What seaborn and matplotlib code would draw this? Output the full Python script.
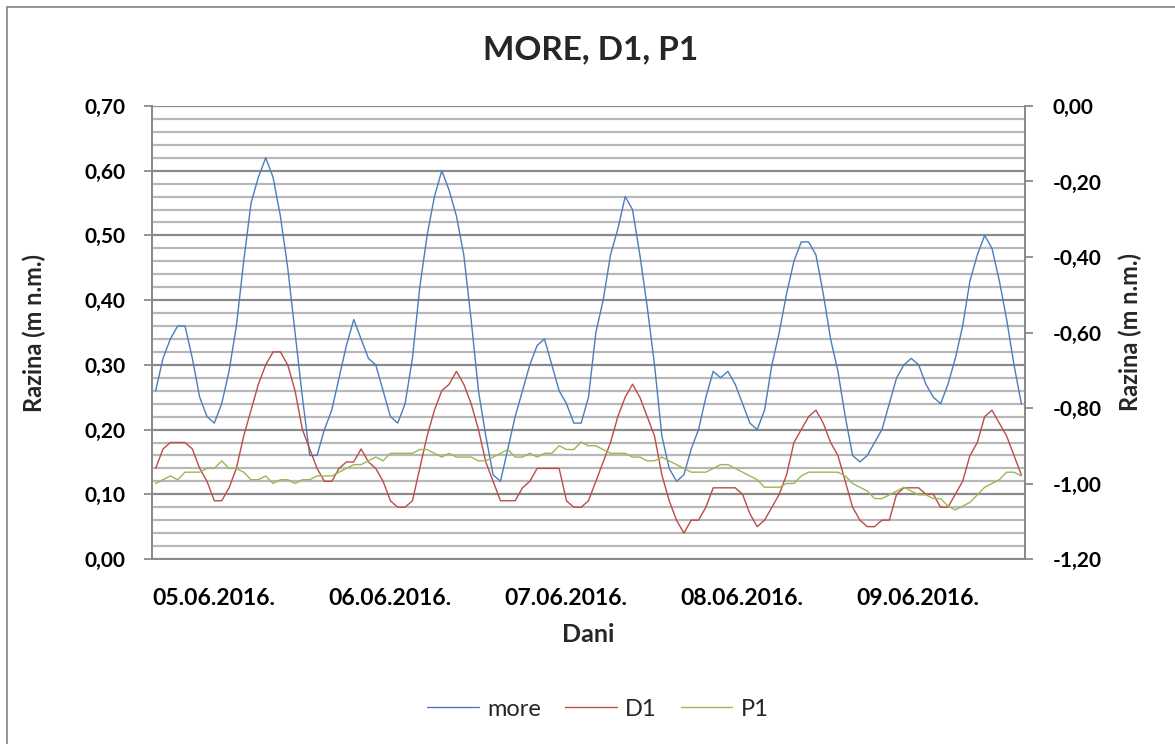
import numpy as np
import pandas as pd
import matplotlib
matplotlib.use("Agg")
import matplotlib.pyplot as plt
import matplotlib.transforms as mtransforms
from matplotlib.ticker import FuncFormatter, MultipleLocator
from matplotlib.lines import Line2D
from matplotlib.patches import Rectangle
import seaborn as sns

# Hourly water levels, 05.06.2016 00h -> 09.06.2016 22h
more = [
    0.26, 0.31, 0.34, 0.36, 0.36, 0.31, 0.25, 0.22, 0.21, 0.24,
    0.29, 0.36, 0.46, 0.55, 0.59, 0.62, 0.59, 0.53, 0.45, 0.35,
    0.25, 0.16, 0.16, 0.20, 0.23, 0.28, 0.33, 0.37, 0.34, 0.31,
    0.30, 0.26, 0.22, 0.21, 0.24, 0.31, 0.42, 0.50, 0.56, 0.60,
    0.57, 0.53, 0.47, 0.37, 0.26, 0.19, 0.13, 0.12, 0.17, 0.22,
    0.26, 0.30, 0.33, 0.34, 0.30, 0.26, 0.24, 0.21, 0.21, 0.25,
    0.35, 0.40, 0.47, 0.51, 0.56, 0.54, 0.47, 0.39, 0.30, 0.19,
    0.14, 0.12, 0.13, 0.17, 0.20, 0.25, 0.29, 0.28, 0.29, 0.27,
    0.24, 0.21, 0.20, 0.23, 0.30, 0.35, 0.41, 0.46, 0.49, 0.49,
    0.47, 0.41, 0.34, 0.29, 0.22, 0.16, 0.15, 0.16, 0.18, 0.20,
    0.24, 0.28, 0.30, 0.31, 0.30, 0.27, 0.25, 0.24, 0.27, 0.31,
    0.36, 0.43, 0.47, 0.50, 0.48, 0.43, 0.37, 0.30, 0.24,
]
d1 = [
    0.14, 0.17, 0.18, 0.18, 0.18, 0.17, 0.14, 0.12, 0.09, 0.09,
    0.11, 0.14, 0.19, 0.23, 0.27, 0.30, 0.32, 0.32, 0.30, 0.26,
    0.20, 0.17, 0.14, 0.12, 0.12, 0.14, 0.15, 0.15, 0.17, 0.15,
    0.14, 0.12, 0.09, 0.08, 0.08, 0.09, 0.14, 0.19, 0.23, 0.26,
    0.27, 0.29, 0.27, 0.24, 0.20, 0.15, 0.12, 0.09, 0.09, 0.09,
    0.11, 0.12, 0.14, 0.14, 0.14, 0.14, 0.09, 0.08, 0.08, 0.09,
    0.12, 0.15, 0.18, 0.22, 0.25, 0.27, 0.25, 0.22, 0.19, 0.13,
    0.09, 0.06, 0.04, 0.06, 0.06, 0.08, 0.11, 0.11, 0.11, 0.11,
    0.10, 0.07, 0.05, 0.06, 0.08, 0.10, 0.13, 0.18, 0.20, 0.22,
    0.23, 0.21, 0.18, 0.16, 0.12, 0.08, 0.06, 0.05, 0.05, 0.06,
    0.06, 0.10, 0.11, 0.11, 0.11, 0.10, 0.10, 0.08, 0.08, 0.10,
    0.12, 0.16, 0.18, 0.22, 0.23, 0.21, 0.19, 0.16, 0.13,
]
p1 = [
    -1.00, -0.99, -0.98, -0.99, -0.97, -0.97, -0.97, -0.96, -0.96, -0.94,
    -0.96, -0.96, -0.97, -0.99, -0.99, -0.98, -1.00, -0.99, -0.99, -1.00,
    -0.99, -0.99, -0.98, -0.98, -0.98, -0.97, -0.96, -0.95, -0.95, -0.94,
    -0.93, -0.94, -0.92, -0.92, -0.92, -0.92, -0.91, -0.91, -0.92, -0.93,
    -0.92, -0.93, -0.93, -0.93, -0.94, -0.94, -0.93, -0.92, -0.91, -0.93,
    -0.93, -0.92, -0.93, -0.92, -0.92, -0.90, -0.91, -0.91, -0.89, -0.90,
    -0.90, -0.91, -0.92, -0.92, -0.92, -0.93, -0.93, -0.94, -0.94, -0.93,
    -0.94, -0.95, -0.96, -0.97, -0.97, -0.97, -0.96, -0.95, -0.95, -0.96,
    -0.97, -0.98, -0.99, -1.01, -1.01, -1.01, -1.00, -1.00, -0.98, -0.97,
    -0.97, -0.97, -0.97, -0.97, -0.98, -1.00, -1.01, -1.02, -1.04, -1.04,
    -1.03, -1.02, -1.01, -1.02, -1.03, -1.03, -1.04, -1.04, -1.06, -1.07,
    -1.06, -1.05, -1.03, -1.01, -1.00, -0.99, -0.97, -0.97, -0.98,
]
day_labels = ["05.06.2016.", "06.06.2016.", "07.06.2016.", "08.06.2016.", "09.06.2016."]
series_names = ["more", "D1", "P1"]
colors = ["#4a7ebb", "#be4b48", "#98b954"]

sns.set_style("white")
FONT = ["Lato", "DejaVu Sans"]
plt.rcParams["font.family"] = FONT

n = len(more)
hours = np.arange(n) + 0.5
df = pd.DataFrame({"sat": hours, "more": more, "D1": d1, "P1": p1})

W, H = 1175, 744
fig = plt.figure(figsize=(W / 100, H / 100), dpi=100)
fig.patch.set_facecolor("white")

# Chart-area frame
fig.add_artist(Rectangle((6.5 / W, -0.05), 1.2, 1 - 6.5 / H + 0.05,
                         transform=fig.transFigure, fill=False,
                         edgecolor="#8c8c8c", linewidth=1.3))

ax = fig.add_axes([152 / W, 1 - 559 / H, (1025 - 152) / W, (559 - 106) / H])
ax2 = ax.twinx()

sns.lineplot(data=df, x="sat", y="more", ax=ax, color=colors[0], linewidth=1.0)
sns.lineplot(data=df, x="sat", y="D1", ax=ax, color=colors[1], linewidth=1.0)
sns.lineplot(data=df, x="sat", y="P1", ax=ax2, color=colors[2], linewidth=1.0)

ax.set_xlim(0, n)
ax.set_ylim(0, 0.70)
ax2.set_ylim(-1.20, 0.0)

# Gridlines: minor every 0.02, major every 0.10
ax.yaxis.set_major_locator(MultipleLocator(0.10))
ax.yaxis.set_minor_locator(MultipleLocator(0.02))
ax.grid(which="minor", axis="y", color="#b8b8b8", linewidth=1.6)
ax.grid(which="major", axis="y", color="#8a8a8a", linewidth=1.6)
ax.grid(False, axis="x")
ax.set_axisbelow(True)
ax.tick_params(axis="y", which="minor", length=0)
ax2.yaxis.set_major_locator(MultipleLocator(0.20))

fmt = FuncFormatter(lambda v, p: f"{v:.2f}".replace(".", ",").replace("-0,00", "0,00"))
ax.yaxis.set_major_formatter(fmt)
ax2.yaxis.set_major_formatter(fmt)

ax.set_xticks([0, 24, 48, 72, 96])
ax.set_xticklabels(day_labels, ha="left")
offset = mtransforms.ScaledTranslation(6 / 100, 0, fig.dpi_scale_trans)
for lab in ax.get_xticklabels():
    lab.set_transform(lab.get_transform() + offset)

for a in (ax, ax2):
    a.spines["top"].set_visible(False)
    for side in ("left", "bottom", "right"):
        a.spines[side].set_color("#8a8a8a")
        a.spines[side].set_linewidth(1.3)
ax.tick_params(axis="both", which="major", direction="out", length=6, width=1.3,
               color="#8a8a8a", labelcolor="black")
ax.tick_params(axis="y", labelsize=15, pad=13)
ax.tick_params(axis="x", labelsize=16.5, pad=15)
ax2.tick_params(axis="y", direction="out", length=6, width=1.3, color="#8a8a8a",
                labelsize=15, labelcolor="black", pad=14)
for lab in ax.get_yticklabels() + ax2.get_yticklabels() + ax.get_xticklabels():
    lab.set_fontweight("bold")

ax.set_xlabel("Dani", fontsize=18, fontweight="bold", labelpad=10)
ax.set_ylabel("Razina (m n.m.)", fontsize=17, fontweight="bold", labelpad=28)
ax2.set_ylabel("Razina (m n.m.)", fontsize=17, fontweight="bold", labelpad=12)

fig.text(591 / W, 1 - 50 / H, "MORE, D1, P1", ha="center", va="center",
         fontsize=24, fontweight="bold")

handles = [Line2D([], [], color=c, linewidth=1.0) for c in colors]
fig.legend(handles, series_names, loc="center", bbox_to_anchor=(598 / W, 1 - 709 / H),
           ncol=3, frameon=False, fontsize=17, handlelength=2.2, columnspacing=1.0,
           handletextpad=0.35)

fig.savefig("out.png", dpi=100, facecolor="white")
